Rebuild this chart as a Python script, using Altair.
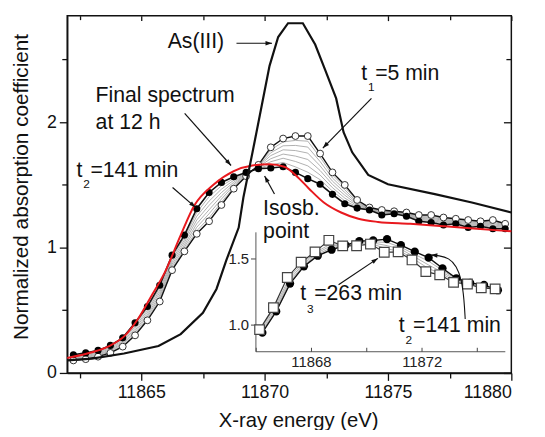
import math
import altair as alt
import pandas as pd

W, H = 450, 362
FONT = "Liberation Sans"
INK = "#111111"

# ---------------- main panel data ----------------
E = [11862.25, 11862.75, 11863.25, 11863.75, 11864.25, 11864.75, 11865.25, 11865.75,
     11866.25, 11866.75, 11867.25, 11867.75, 11868.25, 11868.75, 11869.25, 11869.75,
     11870.25, 11870.75, 11871.25, 11871.75, 11872.25, 11872.75, 11873.25, 11873.75,
     11874.25, 11874.75, 11875.25, 11875.75, 11876.25, 11876.75, 11877.25, 11877.75,
     11878.25, 11878.75, 11879.25, 11879.75]

T1 = [0.10, 0.11, 0.13, 0.16, 0.21, 0.30, 0.42, 0.57, 0.82, 0.97, 1.11, 1.21,
      1.34, 1.47, 1.57, 1.66, 1.80, 1.87, 1.89, 1.89, 1.75, 1.60, 1.50, 1.38,
      1.32, 1.30, 1.29, 1.28, 1.26, 1.26, 1.24, 1.23, 1.22, 1.21, 1.22, 1.19]

T2 = [0.145, 0.16, 0.18, 0.22, 0.28, 0.40, 0.53, 0.70, 0.94, 1.10, 1.31, 1.44,
      1.52, 1.565, 1.60, 1.63, 1.635, 1.645, 1.60, 1.55, 1.505, 1.425, 1.35, 1.315,
      1.30, 1.26, 1.27, 1.25, 1.21, 1.20, 1.18, 1.19, 1.16, 1.17, 1.15, 1.15]

G1 = [.105, .116, .136, .167, .218, .312, .433, .586, .834, .986, 1.134, 1.238, 1.362, 1.481,
      1.574, 1.656, 1.78, 1.843, 1.855, 1.849, 1.721, 1.579, 1.482, 1.372, 1.318, 1.295,
      1.288, 1.276, 1.254, 1.253, 1.233, 1.225, 1.213, 1.205, 1.212, 1.185]
G2 = [.112, .123, .143, .176, .228, .326, .449, .604, .851, 1.004, 1.162, 1.27, 1.387, 1.495,
      1.578, 1.652, 1.757, 1.812, 1.815, 1.802, 1.686, 1.555, 1.461, 1.363, 1.315, 1.29,
      1.285, 1.272, 1.247, 1.244, 1.224, 1.22, 1.204, 1.2, 1.202, 1.18]
G3 = [.118, .13, .15, .184, .238, .34, .464, .622, .868, 1.022, 1.19, 1.302, 1.412, 1.508,
      1.582, 1.648, 1.734, 1.78, 1.774, 1.754, 1.652, 1.53, 1.44, 1.354, 1.312, 1.284,
      1.282, 1.268, 1.24, 1.236, 1.216, 1.214, 1.196, 1.194, 1.192, 1.174]
G4 = [.125, .138, .158, .193, .249, .355, .481, .642, .886, 1.042, 1.22, 1.337, 1.439, 1.522,
      1.587, 1.644, 1.709, 1.746, 1.73, 1.703, 1.615, 1.504, 1.418, 1.344, 1.309, 1.278,
      1.279, 1.264, 1.233, 1.227, 1.207, 1.208, 1.187, 1.188, 1.182, 1.168]
G5 = [.132, .145, .165, .202, .259, .37, .497, .661, .904, 1.061, 1.25, 1.371, 1.466, 1.537,
      1.591, 1.639, 1.685, 1.713, 1.687, 1.652, 1.579, 1.478, 1.395, 1.335, 1.306, 1.272,
      1.276, 1.259, 1.225, 1.218, 1.198, 1.202, 1.178, 1.182, 1.171, 1.162]
G6 = [.138, .153, .173, .211, .27, .385, .514, .68, .922, 1.081, 1.28, 1.406, 1.493, 1.551,
      1.596, 1.635, 1.66, 1.679, 1.644, 1.601, 1.542, 1.451, 1.373, 1.325, 1.303, 1.266,
      1.273, 1.255, 1.218, 1.209, 1.189, 1.196, 1.169, 1.176, 1.161, 1.156]

RED_E = [11862.0, 11863.0, 11863.7, 11864.35, 11864.9, 11865.4, 11865.95, 11866.6, 11867.15,
         11867.95, 11868.75, 11869.5, 11870.2, 11870.8, 11871.3, 11871.8, 11872.4, 11873.1,
         11873.8, 11874.6, 11875.9, 11877.3, 11878.6, 11880.0]
RED_Y = [0.12, 0.165, 0.215, 0.30, 0.44, 0.61, 0.80, 1.10, 1.335, 1.505, 1.61, 1.655, 1.665,
         1.645, 1.57, 1.47, 1.36, 1.28, 1.23, 1.205, 1.19, 1.17, 1.15, 1.13]

AS_E = [11862.0, 11863.0, 11864.3, 11865.7, 11866.6, 11867.5, 11868.05, 11868.45, 11868.95,
        11869.14, 11869.5, 11869.9, 11870.2, 11870.55, 11870.95, 11871.55, 11872.05, 11872.45,
        11872.9, 11873.2, 11873.55, 11874.2, 11875.0, 11876.9, 11878.4, 11880.0]
AS_Y = [0.10, 0.115, 0.155, 0.215, 0.31, 0.48, 0.67, 0.90, 1.16, 1.40, 1.75, 2.15, 2.45,
        2.68, 2.79, 2.79, 2.62, 2.42, 2.19, 1.92, 1.76, 1.58, 1.505, 1.427, 1.36, 1.28]

# ---------------- inset data ----------------
IN_E = E[8:26]
IN_T2 = T2[8:26]
T3_E = [11866.15, 11866.65, 11867.15, 11867.65, 11868.15, 11868.65, 11869.15, 11869.65,
        11870.15, 11870.65, 11871.15, 11871.65, 11872.15, 11872.65, 11873.15, 11873.65,
        11874.15, 11874.65]
T3 = [0.963, 1.129, 1.356, 1.471, 1.549, 1.636, 1.594, 1.595, 1.608, 1.546, 1.549, 1.488,
      1.40, 1.376, 1.319, 1.307, 1.278, 1.27]
IG1 = [.954, 1.118, 1.328, 1.452, 1.532, 1.581, 1.599, 1.622, 1.625, 1.62, 1.584, 1.53,
       1.478, 1.41, 1.342, 1.311, 1.294, 1.263]
IG2 = [.968, 1.135, 1.345, 1.464, 1.543, 1.597, 1.597, 1.614, 1.616, 1.596, 1.569, 1.51,
       1.45, 1.395, 1.334, 1.308, 1.289, 1.265]
IG3 = [.982, 1.153, 1.363, 1.475, 1.555, 1.612, 1.596, 1.606, 1.606, 1.571, 1.553, 1.49,
       1.423, 1.38, 1.325, 1.304, 1.283, 1.268]

# ---------------- annotations ----------------
MAIN_TXT = ["As(III)", "t", "1", "=5 min", "Final spectrum", "at 12 h", "t", "2", "=141 min", "Isosb.", "point"]
MAIN_TX = [11866.07, 11873.92, 11874.19, 11874.48, 11863.15, 11863.15, 11862.38, 11862.65, 11862.94, 11869.94, 11869.94]
MAIN_TY = [2.64, 2.384, 2.28, 2.384, 2.208, 1.99, 1.61, 1.505, 1.61, 1.309, 1.124]
MAIN_TS = [21.5, 21.5, 12, 21.5, 21.5, 21.5, 21.5, 12, 21.5, 21.5, 21.5]

IN_TXT = ["t", "3", "=263 min", "t", "2", "=141 min"]
IN_TX = [11867.62, 11867.86, 11868.12, 11871.17, 11871.42, 11871.69]
IN_TY = [1.228, 1.115, 1.228, 0.993, 0.882, 0.993]
IN_TS = [21.5, 12, 21.5, 21.5, 12, 21.5]

MAIN_AR = {"x1": [11868.86, 11874.33, 11866.76, 11866.27, 11870.4],
           "y1": [2.63, 2.19, 2.07, 1.479, 1.427],
           "x2": [11870.3, 11872.36, 11868.64, 11867.2, 11870.0],
           "y2": [2.63, 1.794, 1.655, 1.321, 1.571]}
IN_AR = {"x1": [11869.0], "y1": [1.302], "x2": [11870.42], "y2": [1.50]}
CURVE_X = [11873.57, 11873.53, 11873.44, 11873.26, 11872.98, 11872.62, 11872.33]
CURVE_Y = [1.043, 1.191, 1.339, 1.443, 1.503, 1.521, 1.525]

# ---------------- scales / axes ----------------
def xs_main():
    return alt.Scale(domain=[11862, 11880], nice=False, zero=False)

def ys_main():
    return alt.Scale(domain=[0, 2.85], nice=False, zero=False)

def xs_in():
    return alt.Scale(domain=[11866, 11875], nice=False, zero=False, range=[190.7, 443.4])

def ys_in():
    return alt.Scale(domain=[0.8, 1.7], nice=False, zero=False, range=[340, 219])

BASE = dict(grid=False, tickColor=INK, domainColor=INK, labelColor=INK, labelFont=FONT,
            titleFont=FONT, titleColor=INK, titleFontWeight="normal", tickWidth=1.3)

ax_bottom_major = alt.Axis(orient="bottom", values=[11865, 11870, 11875, 11880], format="d",
                           tickSize=7.5, labelFontSize=18, labelPadding=3, domainWidth=1.5,
                           title="X-ray energy (eV)", titleFontSize=20.5, titleX=234, titleY=48,
                           titleBaseline="middle", **BASE)
ax_bottom_minor = alt.Axis(orient="bottom", values=[11862.5, 11867.5, 11872.5, 11877.5],
                           tickSize=5, labels=False, domain=False, title=None, **BASE)
ax_top_major = alt.Axis(orient="bottom", offset=-H, values=[11865, 11870, 11875, 11880],
                        tickSize=5, labels=False, domain=False, title=None, **BASE)
ax_top_minor = alt.Axis(orient="bottom", offset=-H, values=[11862.5, 11867.5, 11872.5, 11877.5],
                        tickSize=4, labels=False, domain=False, title=None, **BASE)
ax_left_major = alt.Axis(orient="left", values=[0, 1, 2], format="d", tickSize=8,
                         labelFontSize=18, labelPadding=3, domainWidth=1.5,
                         title="Normalized absorption coefficient", titleFontSize=21,
                         titleX=-46, titleY=173, titleBaseline="middle", **BASE)
ax_left_minor = alt.Axis(orient="left", values=[0.5, 1.5, 2.5], tickSize=5.5, labels=False,
                         domain=False, title=None, **BASE)
ax_right_major = alt.Axis(orient="left", offset=-W, values=[0, 1, 2], tickSize=8, labels=False,
                          domain=False, title=None, **BASE)
ax_right_minor = alt.Axis(orient="left", offset=-W, values=[0.5, 1.5, 2.5], tickSize=5.5,
                          labels=False, domain=False, title=None, **BASE)

IBASE = dict(grid=False, tickColor="#444", domainColor="#555", labelColor="#222", labelFont=FONT,
             tickWidth=1, domainWidth=1, title=None)
ax_in_x = alt.Axis(orient="bottom", offset=-(H - 340), values=[11868, 11872], format="d",
                   ticks=False, labelFontSize=15, labelPadding=3, **IBASE)
ax_in_xt = alt.Axis(orient="top", offset=-340, values=[11866, 11868, 11870, 11872, 11874],
                    tickSize=4, labels=False, domain=False, **IBASE)
ax_in_y = alt.Axis(orient="left", offset=-190.7, values=[1.0, 1.5], format=".1f", tickSize=5,
                   labelFontSize=15, labelPadding=2, **IBASE)


def xy(inset=False, xa=None, ya=None, xf="x", yf="y"):
    if inset:
        return dict(x=alt.X(f"{xf}:Q", scale=xs_in(), axis=xa), y=alt.Y(f"{yf}:Q", scale=ys_in(), axis=ya))
    return dict(x=alt.X(f"{xf}:Q", scale=xs_main(), axis=xa), y=alt.Y(f"{yf}:Q", scale=ys_main(), axis=ya))


def arrow_angles(d, pxx, pxy):
    out = []
    for x1, y1, x2, y2 in zip(d["x1"], d["y1"], d["x2"], d["y2"]):
        out.append(math.degrees(math.atan2(-(y2 - y1) * pxy, (x2 - x1) * pxx)) % 360)
    return out


HEAD = "M0,0L-2.2,-0.75L-2.2,0.75Z"

# ---------------- frames ----------------
gray_df = pd.DataFrame([{"x": e, "y": v, "s": i} for i, g in enumerate([G1, G2, G3, G4, G5, G6])
                        for e, v in zip(E, g)])
t1_df = pd.DataFrame({"x": E, "y": T1})
t2_df = pd.DataFrame({"x": E, "y": T2})
red_df = pd.DataFrame({"x": RED_E, "y": RED_Y})
as_df = pd.DataFrame({"x": AS_E, "y": AS_Y})
mar_df = pd.DataFrame(MAIN_AR)
mar_df["a"] = arrow_angles(MAIN_AR, W / 18.0, H / 2.85)
mtxt_df = pd.DataFrame({"x": MAIN_TX, "y": MAIN_TY, "t": MAIN_TXT, "fs": MAIN_TS})

ig_df = pd.DataFrame([{"x": e, "y": v, "s": i} for i, g in enumerate([IG1, IG2, IG3])
                      for e, v in zip(IN_E, g)])
it2_df = pd.DataFrame({"x": IN_E, "y": IN_T2})
it3_df = pd.DataFrame({"x": T3_E, "y": T3})
iar_df = pd.DataFrame(IN_AR)
iar_df["a"] = arrow_angles(IN_AR, 252.7 / 9.0, 121 / 0.9)
curve_df = pd.DataFrame({"x": CURVE_X, "y": CURVE_Y, "o": list(range(len(CURVE_X)))})
chead_df = pd.DataFrame({"x": [CURVE_X[-1]], "y": [CURVE_Y[-1]],
                         "a": [math.degrees(math.atan2(-(CURVE_Y[-1] - CURVE_Y[-2]) * 134.4,
                                                       (CURVE_X[-1] - CURVE_X[-2]) * 28.1)) % 360]})
itxt_df = pd.DataFrame({"x": IN_TX, "y": IN_TY, "t": IN_TXT, "fs": IN_TS})

layers = []
# main
layers.append(alt.Chart(gray_df).mark_line(color="#9c9c9c", strokeWidth=0.8).encode(
    detail="s:N", **xy(xa=ax_bottom_major, ya=ax_left_major)))
layers.append(alt.Chart(t1_df).mark_line(color=INK, strokeWidth=1.4).encode(
    **xy(xa=ax_bottom_minor, ya=ax_left_minor)))
layers.append(alt.Chart(t1_df).mark_point(shape="circle", filled=True, fill="white", stroke="#333333",
                                          strokeWidth=1, size=48, opacity=1).encode(
    **xy(xa=ax_top_major, ya=ax_right_major)))
layers.append(alt.Chart(t2_df).mark_line(color=INK, strokeWidth=1.6).encode(
    **xy(xa=ax_top_minor, ya=ax_right_minor)))
layers.append(alt.Chart(t2_df).mark_point(shape="circle", filled=True, color="#000000", size=52,
                                          opacity=1).encode(**xy()))
layers.append(alt.Chart(red_df).mark_line(color="#e8191e", strokeWidth=2, interpolate="monotone").encode(**xy()))
layers.append(alt.Chart(as_df).mark_line(color=INK, strokeWidth=2.2).encode(**xy()))
layers.append(alt.Chart(mar_df).mark_rule(color=INK, strokeWidth=1.2).encode(
    x2="x2:Q", y2="y2:Q", **xy(xf="x1", yf="y1")))
layers.append(alt.Chart(mar_df).mark_point(shape=HEAD, filled=True, color=INK, size=36, opacity=1).encode(
    angle=alt.Angle("a:Q", scale=None), **xy(xf="x2", yf="y2")))
layers.append(alt.Chart(mtxt_df).mark_text(align="left", baseline="middle", font=FONT, color=INK).encode(
    text="t:N", size=alt.Size("fs:Q", scale=None), **xy()))
# inset
layers.append(alt.Chart(ig_df).mark_line(color="#9c9c9c", strokeWidth=0.8).encode(
    detail="s:N", **xy(inset=True, xa=ax_in_x, ya=ax_in_y)))
layers.append(alt.Chart(it2_df).mark_line(color=INK, strokeWidth=1.4).encode(
    **xy(inset=True, xa=ax_in_xt)))
layers.append(alt.Chart(it2_df).mark_point(shape="circle", filled=True, color="#000000", size=70,
                                           opacity=1).encode(**xy(inset=True)))
layers.append(alt.Chart(it3_df).mark_line(color="#333333", strokeWidth=1.2).encode(**xy(inset=True)))
layers.append(alt.Chart(it3_df).mark_point(shape="square", filled=True, fill="white", stroke="#444444",
                                           strokeWidth=1.2, size=95, opacity=1).encode(**xy(inset=True)))
layers.append(alt.Chart(iar_df).mark_rule(color=INK, strokeWidth=1.2).encode(
    x2="x2:Q", y2="y2:Q", **xy(inset=True, xf="x1", yf="y1")))
layers.append(alt.Chart(iar_df).mark_point(shape=HEAD, filled=True, color=INK, size=36, opacity=1).encode(
    angle=alt.Angle("a:Q", scale=None), **xy(inset=True, xf="x2", yf="y2")))
layers.append(alt.Chart(curve_df).mark_line(color=INK, strokeWidth=1.1, interpolate="basis").encode(
    order="o:Q", **xy(inset=True)))
layers.append(alt.Chart(chead_df).mark_point(shape=HEAD, filled=True, color=INK, size=36, opacity=1).encode(
    angle=alt.Angle("a:Q", scale=None), **xy(inset=True)))
layers.append(alt.Chart(itxt_df).mark_text(align="left", baseline="middle", font=FONT, color=INK).encode(
    text="t:N", size=alt.Size("fs:Q", scale=None), **xy(inset=True)))

chart = alt.layer(*layers).resolve_scale(x="independent", y="independent").properties(
    width=W, height=H,
    autosize=alt.AutoSizeParams(type="none"),
    padding={"left": 60, "top": 5, "right": 26, "bottom": 55},
).configure_view(stroke=INK, strokeWidth=1.5)

chart.save("out.html", embed_options={"renderer": "svg", "actions": False})
